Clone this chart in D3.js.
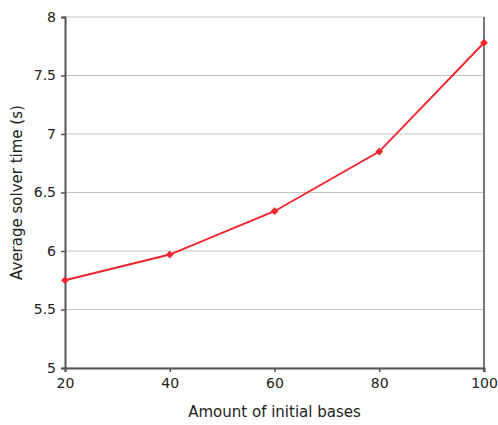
<!DOCTYPE html>
<html>
<head>
<meta charset="utf-8">
<script src="https://cdn.jsdelivr.net/npm/d3@7"></script>
<style>
  html, body { margin: 0; padding: 0; background: #fff; }
  svg text { font-family: "DejaVu Sans", sans-serif; }
</style>
</head>
<body>
<svg id="chart" width="498" height="425"></svg>
<script>
// Number of initial bases vs. average solver time
const bases = [20, 40, 60, 80, 100];
const solverTime = [5.75, 5.97, 6.34, 6.85, 7.78];
const xTicks = [20, 40, 60, 80, 100];
const yTicks = [5, 5.5, 6, 6.5, 7, 7.5, 8];

const margin = { left: 65, right: 14, top: 17, bottom: 57 };
const W = 498, H = 425;
const svg = d3.select("#chart");

const x = d3.scaleLinear().domain([20, 100]).range([margin.left, W - margin.right]);
const y = d3.scaleLinear().domain([5, 8]).range([H - margin.bottom, margin.top]);

// horizontal grid lines
svg.append("g")
  .selectAll("line")
  .data(yTicks)
  .join("line")
  .attr("x1", x(20)).attr("x2", x(100))
  .attr("y1", d => y(d)).attr("y2", d => y(d))
  .attr("stroke", "#c4c4c4")
  .attr("stroke-width", 1);

// right frame line
svg.append("line")
  .attr("x1", x(100)).attr("x2", x(100))
  .attr("y1", y(8)).attr("y2", y(5) + 4)
  .attr("stroke", "#777").attr("stroke-width", 2);

const fmt = d => String(d);

const xAxis = svg.append("g")
  .attr("transform", `translate(0,${y(5)})`)
  .call(d3.axisBottom(x).tickValues(xTicks).tickFormat(fmt).tickSizeOuter(0).tickSize(4).tickPadding(6));
const yAxis = svg.append("g")
  .attr("transform", `translate(${x(20)},0)`)
  .call(d3.axisLeft(y).tickValues(yTicks).tickFormat(fmt).tickSizeOuter(0).tickSize(4).tickPadding(5));

[xAxis, yAxis].forEach(g => {
  g.select(".domain").attr("stroke", "#555").attr("stroke-width", 2);
  g.selectAll(".tick line").attr("stroke", "#555").attr("stroke-width", 1.5);
  g.selectAll(".tick text").attr("fill", "#222").style("font-size", "14px")
    .style("font-family", "'DejaVu Sans', sans-serif");
});

// data line
const pts = bases.map((b, i) => [b, solverTime[i]]);
svg.append("path")
  .datum(pts)
  .attr("fill", "none")
  .attr("stroke", "#f0242c")
  .attr("stroke-width", 1.9)
  .attr("d", d3.line().x(d => x(d[0])).y(d => y(d[1])));

// square-diamond markers
svg.append("g")
  .selectAll("path")
  .data(pts)
  .join("path")
  .attr("transform", d => `translate(${x(d[0])},${y(d[1])}) rotate(45)`)
  .attr("d", d3.symbol(d3.symbolSquare, 30)())
  .attr("fill", "#f0242c");

// axis titles
svg.append("text")
  .attr("x", (x(20) + x(100)) / 2)
  .attr("y", 417)
  .attr("text-anchor", "middle")
  .attr("fill", "#222")
  .style("font-size", "15px")
  .text("Amount of initial bases");

svg.append("text")
  .attr("transform", `translate(22,${(y(5) + y(8)) / 2}) rotate(-90)`)
  .attr("text-anchor", "middle")
  .attr("fill", "#222")
  .style("font-size", "15px")
  .text("Average solver time (s)");
</script>
</body>
</html>
